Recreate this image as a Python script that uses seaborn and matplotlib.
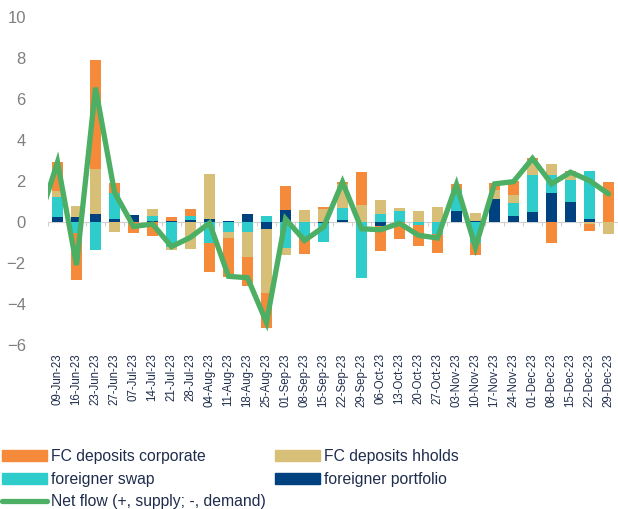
import numpy as np
import pandas as pd
import seaborn as sns
import matplotlib
matplotlib.use('Agg')
import matplotlib.pyplot as plt
from matplotlib.patches import Patch
from matplotlib.lines import Line2D

weeks = ['09-Jun-23', '16-Jun-23', '23-Jun-23', '27-Jun-23', '07-Jul-23', '14-Jul-23',
         '21-Jul-23', '28-Jul-23', '04-Aug-23', '11-Aug-23', '18-Aug-23', '25-Aug-23',
         '01-Sep-23', '08-Sep-23', '15-Sep-23', '22-Sep-23', '29-Sep-23', '06-Oct-23',
         '13-Oct-23', '20-Oct-23', '27-Oct-23', '03-Nov-23', '10-Nov-23', '17-Nov-23',
         '24-Nov-23', '01-Dec-23', '08-Dec-23', '15-Dec-23', '22-Dec-23', '29-Dec-23']

portfolio = [0.25, 0.23, 0.40, 0.15, 0.35, 0.07, 0.05, 0.10, 0.15, 0.07,
             0.37, -0.33, 0.60, 0.00, -0.05, 0.10, 0.00, -0.20, 0.00, 0.00,
             0.00, 0.53, 0.05, 1.12, 0.28, 0.50, 1.42, 0.97, 0.15, 0.00]
swap = [0.95, -0.55, -1.37, 1.27, 0.00, 0.20, -1.22, 0.20, -1.00, -0.47,
        -0.47, 0.27, -1.27, -0.75, -0.95, 0.60, -2.75, 0.40, 0.52, -0.17,
        -0.58, 1.05, -1.00, 0.00, 0.64, 1.77, 0.85, 1.10, 2.36, 0.00]
hholds = [0.30, 0.57, 2.20, -0.50, 0.00, 0.35, -0.13, -1.32, 2.20, -0.33,
          -1.25, -3.14, -0.36, 0.60, 0.63, 1.13, 0.85, 0.65, 0.18, 0.52,
          0.75, 0.00, 0.38, 0.45, 0.42, 0.76, 0.57, 0.33, -0.12, -0.58]
corporate = [1.45, -2.30, 5.30, 0.50, -0.53, -0.70, 0.17, 0.35, -1.45, -1.90,
             -1.41, -1.71, 1.15, -0.80, 0.12, 0.12, 1.60, -1.23, -0.83, -0.98,
             -0.92, 0.25, -0.63, 0.33, 0.68, 0.10, -1.00, 0.08, -0.33, 1.94]
# net flow, first value is the week before the chart window (clipped at the edge)
net_flow = [0.0, 2.92, -2.10, 6.55, 1.45, -0.22, -0.10, -1.20, -0.75, -0.05, -2.65,
            -2.72, -4.90, 0.15, -0.90, -0.25, 1.95, -0.33, -0.38, -0.06, -0.65,
            -0.78, 1.83, -1.23, 1.86, 1.97, 3.10, 1.86, 2.43, 2.02, 1.37]

series = [('foreigner portfolio', portfolio, '#00427F'),
          ('foreigner swap', swap, '#2ECDCB'),
          ('FC deposits hholds', hholds, '#D8BF78'),
          ('FC deposits corporate', corporate, '#F58A3A')]

sns.set_theme(style='white')
plt.rcParams['font.family'] = ['Liberation Sans', 'DejaVu Sans']

fig = plt.figure(figsize=(6.18, 5.09), dpi=100)
ax = fig.add_axes([48 / 618, 1 - 345 / 509, 570 / 618, 328 / 509])

x = np.arange(len(weeks))
pos_base = np.zeros(len(weeks))
neg_base = np.zeros(len(weeks))
for name, vals, col in series:
    v = np.array(vals)
    base = np.where(v >= 0, pos_base, neg_base)
    ax.bar(x, v, bottom=base, width=0.62, color=col, linewidth=0)
    pos_base += np.clip(v, 0, None)
    neg_base += np.clip(v, None, 0)

net_df = pd.DataFrame({'x': np.arange(-1, len(weeks)), 'net': net_flow})
sns.lineplot(data=net_df, x='x', y='net', ax=ax, color='#4CAF64', linewidth=3.8,
             solid_joinstyle='miter', zorder=5)

ax.set_xlim(-0.5, len(weeks) - 0.5)
ax.set_ylim(-6, 10)
ax.set_yticks(range(-6, 11, 2))
ax.set_xticks(x)
ax.set_xticklabels(weeks, rotation=90, fontsize=8.3, color='#1F2D4D')
ax.tick_params(axis='y', labelsize=12, labelcolor='#7F7F7F', length=0, pad=16)
ax.tick_params(axis='x', length=0, pad=6)
ax.set_xlabel('')
ax.set_ylabel('')
for s in ax.spines.values():
    s.set_visible(False)

# zero line with category separators
zero = ax.secondary_xaxis(6 / 16)
zero.set_xticks(np.arange(-0.5, len(weeks), 1))
zero.set_xticklabels([])
zero.tick_params(axis='x', length=3, color='#D0D0D0', width=0.8)
zero.spines['bottom'].set_color('#D0D0D0')
zero.spines['bottom'].set_linewidth(0.8)
for k in ['top', 'left', 'right']:
    zero.spines[k].set_visible(False)

handles = [Patch(color='#F58A3A', label='FC deposits corporate'),
           Patch(color='#2ECDCB', label='foreigner swap'),
           Line2D([], [], color='#4CAF64', linewidth=3.8, label='Net flow (+, supply; -, demand)'),
           Patch(color='#D8BF78', label='FC deposits hholds'),
           Patch(color='#00427F', label='foreigner portfolio')]
fig.legend(handles=handles, ncol=2, loc='upper left', bbox_to_anchor=(2 / 618, 1 - 449 / 509),
           frameon=False, fontsize=11.3, handlelength=2.85, handletextpad=0.3,
           columnspacing=0.55, labelspacing=0.48, borderaxespad=0, borderpad=0,
           labelcolor='#1F2D4D')

fig.savefig('out.png', dpi=100)
